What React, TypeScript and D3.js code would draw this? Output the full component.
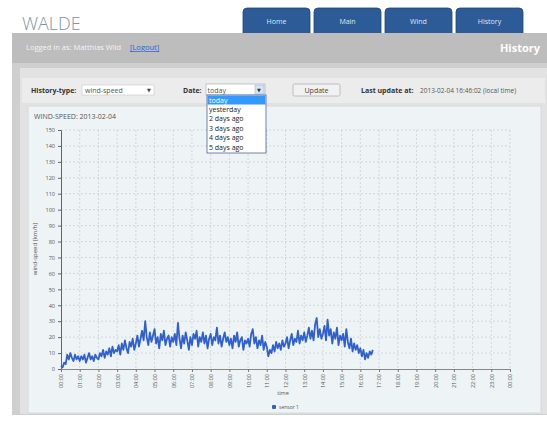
import React, { useEffect, useRef } from 'react';
import * as d3 from 'd3';

const navTabs = ['Home', 'Main', 'Wind', 'History'];
const dateOptions = ['today', 'yesterday', '2 days ago', '3 days ago', '4 days ago', '5 days ago'];
const yTicks = [0, 10, 20, 30, 40, 50, 60, 70, 80, 90, 100, 110, 120, 130, 140, 150];
const xTickHours = [0, 1, 2, 3, 4, 5, 6, 7, 8, 9, 10, 11, 12, 13, 14, 15, 16, 17, 18, 19, 20, 21, 22, 23, 24];
const seriesName = 'sensor 1';
const dayStart = new Date(2013, 1, 4, 0, 0);
const stepMinutes = 5;

// wind speed in km/h, one reading every 5 minutes, one row per hour
const windSpeed = [
    2, 1, 4, 3, 9, 6, 10, 7, 5, 9, 6, 8,
    5, 8, 6, 9, 4, 7, 10, 6, 8, 5, 9, 7,
    6, 10, 8, 12, 7, 11, 9, 13, 8, 14, 10, 12,
    11, 15, 9, 16, 12, 18, 13, 10, 17, 14, 19, 12,
    16, 21, 14, 19, 24, 18, 30, 20, 15, 23, 17, 21,
    25, 16, 20, 13, 22, 18, 24, 15, 19, 21, 14, 20,
    17, 22, 15, 29, 19, 13, 21, 16, 23, 18, 12, 20,
    15, 22, 19, 24, 14, 20, 17, 23, 16, 21, 13, 19,
    22, 15, 20, 18, 26, 16, 21, 14, 19, 23, 17, 20,
    15, 19, 13, 21, 17, 23, 14, 18, 20, 12, 18, 16,
    19, 14, 22, 25, 16, 20, 13, 18, 15, 21, 12, 17,
    14, 8, 12, 10, 15, 11, 17, 13, 16, 12, 18, 14,
    16, 20, 13, 18, 22, 15, 19, 17, 24, 16, 21, 18,
    23, 17, 21, 26, 19, 24, 18, 28, 32, 20, 25, 19,
    22, 27, 18, 31, 21, 25, 16, 23, 19, 26, 15, 21,
    18, 22, 14, 25, 17, 13, 19, 11, 16, 12, 15, 10,
    13, 8, 12, 6, 10, 7, 11, 9, 12,
];

const font = '"Open Sans", "DejaVu Sans", sans-serif';

const App: React.FC = () => {
    const chartRef = useRef<SVGGElement>(null);

    useEffect(() => {
        const g = d3.select(chartRef.current);
        g.selectAll('*').remove();

        const x = d3.scaleTime()
            .domain([dayStart, d3.timeHour.offset(dayStart, 24)])
            .range([61, 510]);
        const y = d3.scaleLinear().domain([0, 150]).range([369, 130]);

        const tickDates = xTickHours.map(h => d3.timeHour.offset(dayStart, h));

        // grid
        g.append('g')
            .selectAll('line')
            .data(yTicks.slice(1))
            .enter()
            .append('line')
            .attr('x1', 61)
            .attr('x2', 510)
            .attr('y1', d => y(d))
            .attr('y2', d => y(d))
            .attr('stroke', '#c4cbd0')
            .attr('stroke-dasharray', '2,2')
            .attr('stroke-width', 0.7);

        g.append('g')
            .selectAll('line')
            .data(tickDates.slice(1))
            .enter()
            .append('line')
            .attr('x1', d => x(d))
            .attr('x2', d => x(d))
            .attr('y1', 130)
            .attr('y2', 369)
            .attr('stroke', '#c4cbd0')
            .attr('stroke-dasharray', '2,2')
            .attr('stroke-width', 0.7);

        // y axis
        const yAxis = g.append('g')
            .attr('transform', 'translate(61,0)')
            .call(d3.axisLeft(y).tickValues(yTicks).tickSize(3).tickSizeOuter(3));
        yAxis.select('.domain').attr('stroke', '#666');
        yAxis.selectAll('line').attr('stroke', '#666');
        yAxis.selectAll('text')
            .attr('font-size', 5.5)
            .attr('font-family', font)
            .attr('fill', '#555');

        // x axis
        const xAxis = g.append('g')
            .attr('transform', 'translate(0,369)')
            .call(d3.axisBottom(x).tickValues(tickDates).tickSize(3).tickSizeOuter(0)
                .tickFormat(d => d3.timeFormat('%H:%M')(d as Date)));
        xAxis.select('.domain').attr('stroke', '#888');
        xAxis.selectAll('line').attr('stroke', '#777');
        xAxis.selectAll('text')
            .attr('font-size', 5.5)
            .attr('font-family', font)
            .attr('fill', '#555')
            .attr('text-anchor', 'end')
            .attr('transform', 'rotate(-90)')
            .attr('x', -5)
            .attr('y', 0)
            .attr('dy', '0.35em');

        // series
        const line = d3.line<number>()
            .x((_, i) => x(d3.timeMinute.offset(dayStart, i * stepMinutes)))
            .y(d => y(d));

        g.append('path')
            .datum(windSpeed)
            .attr('fill', 'none')
            .attr('stroke', '#2f60cc')
            .attr('stroke-width', 1.8)
            .attr('stroke-linejoin', 'round')
            .attr('d', line);

        // labels
        g.append('text')
            .attr('x', 283)
            .attr('y', 395)
            .attr('text-anchor', 'middle')
            .attr('font-size', 5.5)
            .attr('font-family', font)
            .attr('fill', '#555')
            .text('time');

        g.append('text')
            .attr('transform', 'translate(37,249) rotate(-90)')
            .attr('text-anchor', 'middle')
            .attr('font-size', 6)
            .attr('font-family', font)
            .attr('fill', '#555')
            .text('wind-speed [km/h]');

        g.append('text')
            .attr('x', 34)
            .attr('y', 119)
            .attr('font-size', 7)
            .attr('font-family', font)
            .attr('fill', '#555')
            .text('WIND-SPEED: 2013-02-04');

        g.append('rect')
            .attr('x', 272)
            .attr('y', 405)
            .attr('width', 4)
            .attr('height', 4)
            .attr('rx', 1)
            .attr('fill', '#2f60cc');
        g.append('text')
            .attr('x', 279)
            .attr('y', 409)
            .attr('font-size', 5)
            .attr('font-family', font)
            .attr('fill', '#555')
            .text(seriesName);
    }, []);

    return (
        <svg width={547} height={422} style={{ position: 'absolute', left: 0, top: 0, background: 'white' }}
            fontFamily={font}>
            <text x={22} y={30} fontSize={18} fill="#8293a5" fontWeight={300}>WALDE</text>

            {navTabs.map((t, i) => (
                <g key={t}>
                    <path d={`M${243 + i * 71},34 V12 q0,-4 4,-4 H${306 + i * 71} q4,0 4,4 V34 Z`}
                        fill="#2c5b98" stroke="#1f4578" strokeWidth={0.8} />
                    <text x={276.5 + i * 71} y={24} textAnchor="middle" fontSize={7} fill="#dfe8f3">{t}</text>
                </g>
            ))}

            {/* gray panel */}
            <rect x={12} y={33} width={535} height={382} fill="#cfcfcf" />
            <rect x={12} y={33} width={535} height={30} fill="#bdbdbd" />
            <text x={26} y={50} fontSize={7.5} fill="#f4f4f4">Logged in as: Matthias Wild</text>
            <text x={130} y={50} fontSize={7.5} fill="#2a62d8" textDecoration="underline">[Logout]</text>
            <text x={540} y={52} fontSize={11} fontWeight="bold" fill="#ffffff" textAnchor="end">History</text>

            <rect x={20} y={68} width={527} height={346} fill="#e2e2e2" />
            <rect x={22} y={78} width={523} height={25} fill="#ececec" />

            {/* controls */}
            <text x={31} y={92.5} fontSize={7} fontWeight="bold" fill="#333">History-type:</text>
            <rect x={82} y={85} width={72} height={10} fill="#fff" stroke="#c8c8c8" strokeWidth={0.6} />
            <text x={85} y={92.5} fontSize={7} fill="#555">wind-speed</text>
            <text x={147} y={92} fontSize={5} fill="#444">▼</text>

            <text x={183} y={92.5} fontSize={7} fontWeight="bold" fill="#333">Date:</text>
            <rect x={206} y={84} width={59} height={11} fill="#fff" stroke="#9aa8b8" strokeWidth={0.6} />
            <rect x={255} y={85} width={9} height={9} fill="#d6e4f5" stroke="#9aa8b8" strokeWidth={0.5} />
            <text x={207.5} y={92.5} fontSize={7} fill="#555">today</text>
            <text x={257} y={92} fontSize={5} fill="#333">▼</text>

            <rect x={293} y={84} width={47} height={12} rx={1.5} fill="#f1f1f1" stroke="#a9a9a9" strokeWidth={0.7} />
            <text x={316.5} y={92.5} fontSize={7} fill="#444" textAnchor="middle">Update</text>

            <text x={361} y={92.5} fontSize={7} fontWeight="bold" fill="#333">Last update at:</text>
            <text x={420} y={92.5} fontSize={6.5} fill="#555">2013-02-04 16:46:02 (local time)</text>

            {/* chart box */}
            <rect x={28} y={106} width={513} height={307} fill="#eef3f6" stroke="#d0d6da" strokeWidth={0.8} />
            <g ref={chartRef} />

            {/* open date dropdown */}
            <rect x={207} y={95} width={59} height={58} fill="#fff" stroke="#3a4f78" strokeWidth={0.7} />
            <rect x={207.5} y={95.5} width={58} height={9} fill="#3399ff" />
            {dateOptions.map((o, i) => (
                <text key={o} x={209} y={102.5 + i * 9.4} fontSize={7} fill={i === 0 ? '#ffffff' : '#222'}>{o}</text>
            ))}
        </svg>
    );
};

export default App;
